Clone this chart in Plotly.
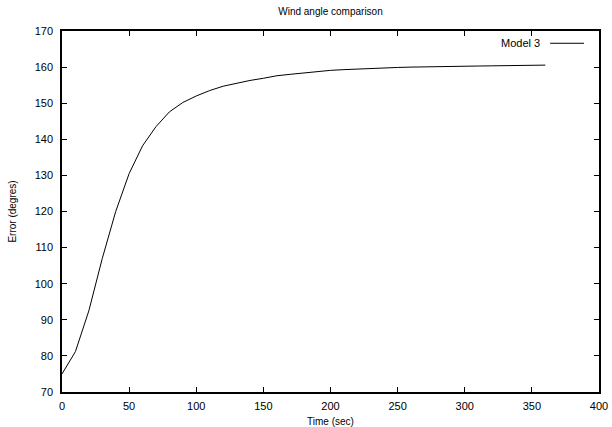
import plotly.graph_objects as go

# Wind angle error over time for Model 3
time_sec = [0, 10, 20, 30, 40, 50, 60, 70, 80, 90, 100, 110, 120, 130, 140, 150,
            160, 170, 180, 190, 200, 210, 220, 230, 240, 250, 260, 270, 280, 290,
            300, 310, 320, 330, 340, 350, 360]
error_deg = [75.0, 81.2, 92.5, 107.0, 120.0, 130.5, 138.2, 143.5, 147.6, 150.2,
             152.0, 153.5, 154.7, 155.6, 156.3, 156.9, 157.6, 158.0, 158.4, 158.8,
             159.1, 159.3, 159.5, 159.7, 159.8, 159.9, 160.0, 160.1, 160.15, 160.2,
             160.25, 160.3, 160.35, 160.4, 160.45, 160.5, 160.55]
series_name = "Model 3"

FONT = "Liberation Sans, Arial, Helvetica, sans-serif"

fig = go.Figure()
fig.add_trace(go.Scatter(x=time_sec, y=error_deg, mode="lines", name=series_name,
                         line=dict(color="black", width=1), showlegend=False))

axis_common = dict(
    showline=True, linecolor="black", linewidth=1.5, mirror="ticks",
    ticks="inside", ticklen=5, tickwidth=1, tickcolor="black",
    showgrid=False, zeroline=False, automargin=False,
    tickfont=dict(family=FONT, size=11, color="black"),
)

fig.update_layout(
    width=612, height=427,
    margin=dict(l=62, r=13, t=31, b=35),
    paper_bgcolor="white", plot_bgcolor="white",
    title=dict(text="Wind angle comparison", x=0.5, xref="paper", y=0.972,
               yanchor="middle", font=dict(family=FONT, size=10, color="black")),
    xaxis=dict(range=[0, 400], dtick=50, tick0=0, ticklabelstandoff=3,
               title=dict(text="Time (sec)", standoff=8,
                          font=dict(family=FONT, size=10, color="black")),
               **axis_common),
    yaxis=dict(range=[70, 170], dtick=10, tick0=70, ticklabelstandoff=5,
               title=dict(text="Error (degres)", standoff=16,
                          font=dict(family=FONT, size=10, color="black")),
               **axis_common),
)

# gnuplot-style key: label on the left, line sample on the right
fig.add_annotation(x=0.894, y=0.966, xref="paper", yref="paper",
                   text=series_name, showarrow=False, xanchor="right", yanchor="middle",
                   font=dict(family=FONT, size=11, color="black"))
fig.add_shape(type="line", xref="paper", yref="paper",
              x0=0.909, x1=0.972, y0=0.966, y1=0.966,
              line=dict(color="black", width=1))

fig.write_html("out.html")
